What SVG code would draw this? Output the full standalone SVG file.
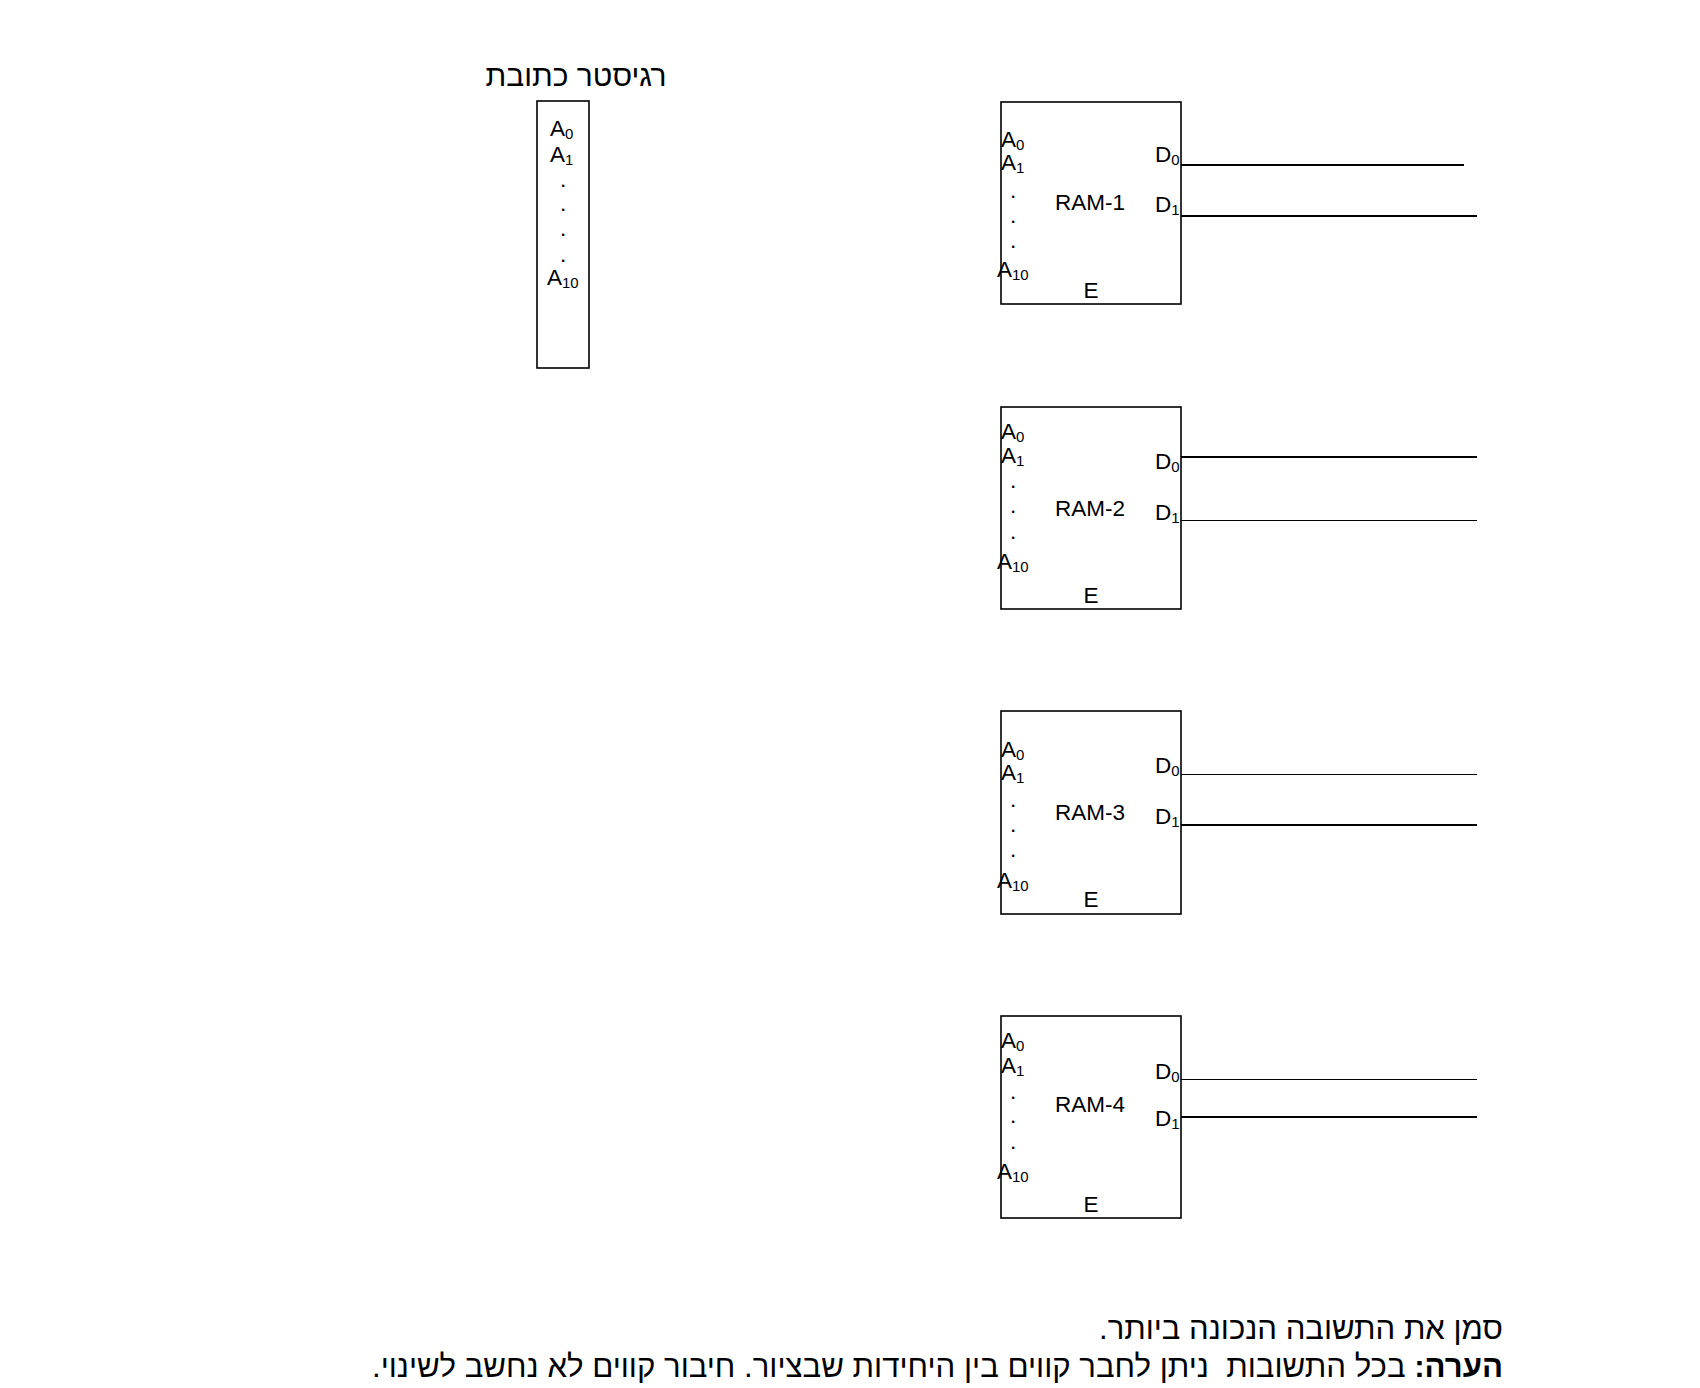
<svg xmlns="http://www.w3.org/2000/svg" width="1700" height="1388" viewBox="0 0 1700 1388">
<style>
.box{fill:#fff;stroke:#000;stroke-width:1.6}
.lbl{font-family:"Liberation Sans",Arial,sans-serif;font-size:22.5px;fill:#000}
.sub{font-size:15px}
.heb{font-family:"Liberation Sans","DejaVu Sans",Arial,sans-serif;fill:#000}
.w2{stroke:#000;stroke-width:2.2;fill:none}
.w1{stroke:#000;stroke-width:1.2;fill:none}
</style>
<rect width="1700" height="1388" fill="#fff"/>

<g id="register">
<text class="heb" x="576" y="86" font-size="30" text-anchor="middle">רגיסטר כתובת</text>
<rect class="box" x="537" y="101" width="52" height="267"/>
<text class="lbl" x="550" y="136">A<tspan class="sub" dy="3">0</tspan></text>
<text class="lbl" x="550" y="162">A<tspan class="sub" dy="3">1</tspan></text>
<text class="lbl" x="560" y="187">.</text>
<text class="lbl" x="560" y="211">.</text>
<text class="lbl" x="560" y="236">.</text>
<text class="lbl" x="560" y="262">.</text>
<text class="lbl" x="547" y="285">A<tspan class="sub" dy="3">10</tspan></text>
</g>

<g id="ram1">
<rect class="box" x="1001" y="102" width="180" height="202"/>
<text class="lbl" x="1001" y="147">A<tspan class="sub" dy="3">0</tspan></text>
<text class="lbl" x="1001" y="170">A<tspan class="sub" dy="3">1</tspan></text>
<text class="lbl" x="1010" y="198">.</text>
<text class="lbl" x="1010" y="223">.</text>
<text class="lbl" x="1010" y="248">.</text>
<text class="lbl" x="997" y="277">A<tspan class="sub" dy="3">10</tspan></text>
<text class="lbl" x="1090" y="210" text-anchor="middle">RAM-1</text>
<text class="lbl" x="1155" y="162">D<tspan class="sub" dy="3">0</tspan></text>
<text class="lbl" x="1155" y="212">D<tspan class="sub" dy="3">1</tspan></text>
<text class="lbl" x="1091" y="298" text-anchor="middle">E</text>
</g>

<g id="ram2">
<rect class="box" x="1001" y="407" width="180" height="202"/>
<text class="lbl" x="1001" y="439">A<tspan class="sub" dy="3">0</tspan></text>
<text class="lbl" x="1001" y="463">A<tspan class="sub" dy="3">1</tspan></text>
<text class="lbl" x="1010" y="488">.</text>
<text class="lbl" x="1010" y="513">.</text>
<text class="lbl" x="1010" y="539">.</text>
<text class="lbl" x="997" y="569">A<tspan class="sub" dy="3">10</tspan></text>
<text class="lbl" x="1090" y="516" text-anchor="middle">RAM-2</text>
<text class="lbl" x="1155" y="469">D<tspan class="sub" dy="3">0</tspan></text>
<text class="lbl" x="1155" y="520">D<tspan class="sub" dy="3">1</tspan></text>
<text class="lbl" x="1091" y="603" text-anchor="middle">E</text>
</g>

<g id="ram3">
<rect class="box" x="1001" y="711" width="180" height="203"/>
<text class="lbl" x="1001" y="757">A<tspan class="sub" dy="3">0</tspan></text>
<text class="lbl" x="1001" y="780">A<tspan class="sub" dy="3">1</tspan></text>
<text class="lbl" x="1010" y="807">.</text>
<text class="lbl" x="1010" y="832">.</text>
<text class="lbl" x="1010" y="857">.</text>
<text class="lbl" x="997" y="888">A<tspan class="sub" dy="3">10</tspan></text>
<text class="lbl" x="1090" y="820" text-anchor="middle">RAM-3</text>
<text class="lbl" x="1155" y="773">D<tspan class="sub" dy="3">0</tspan></text>
<text class="lbl" x="1155" y="824">D<tspan class="sub" dy="3">1</tspan></text>
<text class="lbl" x="1091" y="907" text-anchor="middle">E</text>
</g>

<g id="ram4">
<rect class="box" x="1001" y="1016" width="180" height="202"/>
<text class="lbl" x="1001" y="1048">A<tspan class="sub" dy="3">0</tspan></text>
<text class="lbl" x="1001" y="1073">A<tspan class="sub" dy="3">1</tspan></text>
<text class="lbl" x="1010" y="1099">.</text>
<text class="lbl" x="1010" y="1123">.</text>
<text class="lbl" x="1010" y="1149">.</text>
<text class="lbl" x="997" y="1179">A<tspan class="sub" dy="3">10</tspan></text>
<text class="lbl" x="1090" y="1112" text-anchor="middle">RAM-4</text>
<text class="lbl" x="1155" y="1079">D<tspan class="sub" dy="3">0</tspan></text>
<text class="lbl" x="1155" y="1126">D<tspan class="sub" dy="3">1</tspan></text>
<text class="lbl" x="1091" y="1212" text-anchor="middle">E</text>
</g>

<g id="connectors">
<line class="w2" x1="1181" y1="165" x2="1464" y2="165"/>
<line class="w2" x1="1181" y1="216" x2="1477" y2="216"/>
<line class="w2" x1="1181" y1="457" x2="1477" y2="457"/>
<line class="w1" x1="1181" y1="520.5" x2="1477" y2="520.5"/>
<line class="w1" x1="1181" y1="774.5" x2="1477" y2="774.5"/>
<line class="w2" x1="1181" y1="825" x2="1477" y2="825"/>
<line class="w1" x1="1181" y1="1079.5" x2="1477" y2="1079.5"/>
<line class="w2" x1="1181" y1="1117" x2="1477" y2="1117"/>
</g>

<g id="note">
<text class="heb" x="1503" y="1339" font-size="31" direction="rtl" text-anchor="start" textLength="404" lengthAdjust="spacingAndGlyphs">סמן את התשובה הנכונה ביותר.</text>
<text class="heb" x="1503" y="1377" font-size="31" direction="rtl" text-anchor="start" xml:space="preserve" textLength="1131" lengthAdjust="spacingAndGlyphs"><tspan font-weight="bold">הערה:</tspan> בכל התשובות  ניתן לחבר קווים בין היחידות שבציור. חיבור קווים לא נחשב לשינוי.</text>
</g>
</svg>
